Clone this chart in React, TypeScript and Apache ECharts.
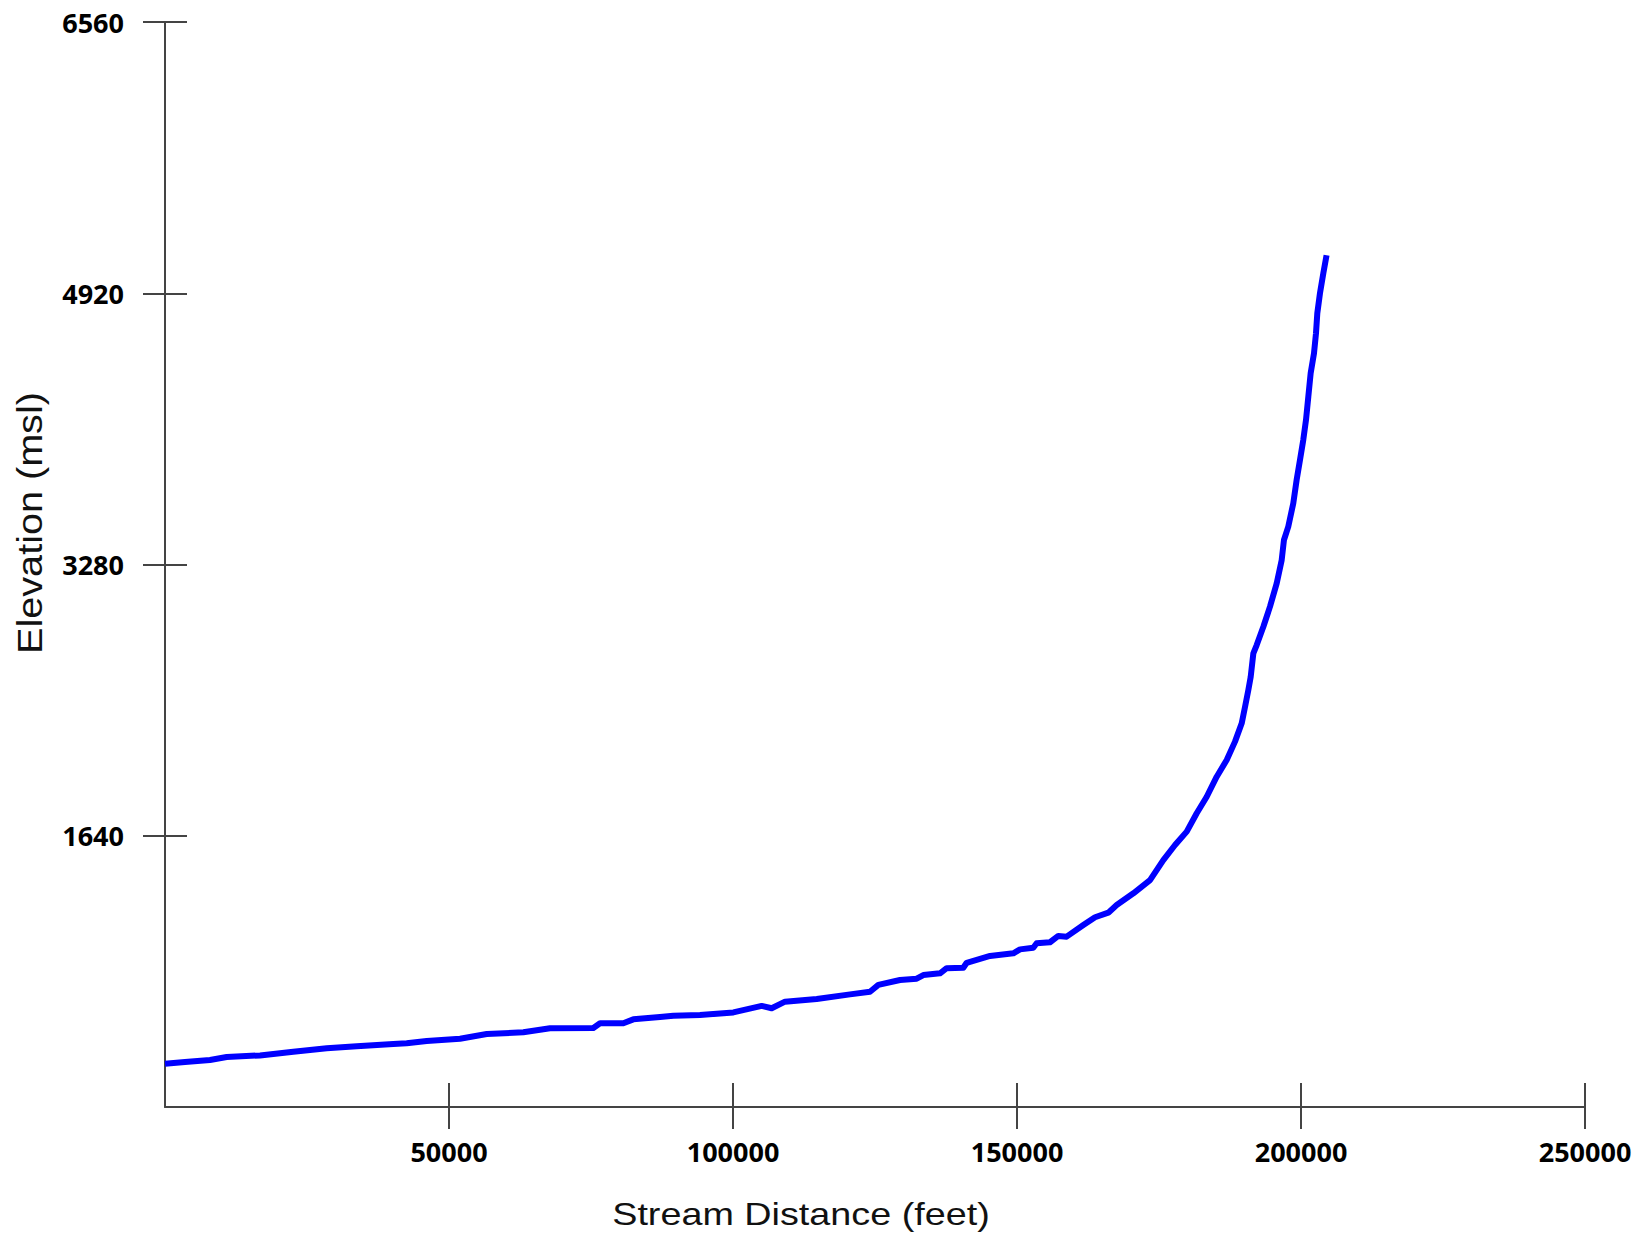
import React, { useEffect, useRef } from "react";
import * as echarts from "echarts";

const distanceFeet = [
  0, 3520, 7920, 10860, 16730, 19070, 22590, 25530, 28470, 33750, 40200, 42550,
  46070, 51940, 56640, 63090, 67780, 75410, 76590, 80690, 82450, 87150, 89500,
  94190, 100060, 105050, 106810, 109160, 114740, 120600, 124120, 125590, 129400,
  132340, 133510, 136450, 137620, 140550, 141140, 145250, 149360, 150530, 152870,
  153460, 155810, 157270, 158740, 161680, 163740, 166080, 167550, 170490, 173420,
  175760, 177820, 179880, 181640, 183400, 185160, 186920, 188380, 189560, 190150,
  190730, 191140, 191610, 192200, 193370, 194540, 195720, 196600, 197000, 197760,
  198640, 199230, 199820, 200400, 200880, 201290, 201700, 202290, 202640, 202870,
  203340, 203930, 204500,
];
const elevationMsl = [
  262, 272, 284, 302, 312, 320, 334, 345, 355, 367, 381, 385,
  399, 413, 441, 452, 476, 478, 506, 506, 530, 544, 552,
  556, 572, 611, 597, 637, 653, 681, 697, 738, 768,
  776, 798, 808, 839, 842, 872, 913, 929, 953, 963,
  990, 996, 1034, 1030, 1100, 1147, 1175, 1221, 1292, 1372,
  1493, 1584, 1665, 1776, 1876, 1997, 2098, 2209, 2320, 2420,
  2521, 2600, 2743, 2793, 2904, 3025, 3166, 3307, 3428, 3509,
  3650, 3791, 3912, 4033, 4154, 4295, 4436, 4557, 4678, 4799,
  4920, 5041, 5150,
];
const xTicks = [50000, 100000, 150000, 200000, 250000];
const yTicks = [1640, 3280, 4920, 6560];
const xTitle = "Stream Distance (feet)";
const yTitle = "Elevation (msl)";

export default function App() {
  const ref = useRef<HTMLDivElement>(null);
  useEffect(() => {
    if (!ref.current) return;
    const chart = echarts.init(ref.current, undefined, { renderer: "svg" });
    const axisColor = "#444";
    const labelStyle = {
      color: "#000",
      fontFamily: "Open Sans",
      fontWeight: "bold" as const,
      fontSize: 27,
      formatter: (v: number) => String(v),
    };
    const data = distanceFeet.map((d, i) => [d, elevationMsl[i]]);
    chart.setOption({
      animation: false,
      backgroundColor: "#fff",
      grid: { left: 165, right: 63, top: 22, bottom: 133 },
      xAxis: [
        {
          type: "value",
          min: 0,
          max: 250000,
          interval: 50000,
          position: "bottom",
          axisLine: { show: true, lineStyle: { color: axisColor, width: 2 } },
          axisTick: {
            show: true,
            inside: false,
            length: 22,
            customValues: xTicks,
            lineStyle: { color: axisColor, width: 2 },
          },
          axisLabel: {
            ...labelStyle,
            margin: 31,
            customValues: xTicks,
          },
          splitLine: { show: false },
        },
        {
          type: "value",
          min: 0,
          max: 250000,
          interval: 50000,
          position: "bottom",
          axisLine: { show: false },
          axisTick: {
            show: true,
            inside: true,
            length: 24,
            customValues: xTicks,
            lineStyle: { color: axisColor, width: 2 },
          },
          axisLabel: { show: false },
          splitLine: { show: false },
        },
      ],
      yAxis: [
        {
          type: "value",
          min: 0,
          max: 6560,
          interval: 1640,
          position: "left",
          axisLine: { show: true, lineStyle: { color: axisColor, width: 2 } },
          axisTick: {
            show: true,
            inside: false,
            length: 22,
            customValues: yTicks,
            lineStyle: { color: axisColor, width: 2 },
          },
          axisLabel: {
            ...labelStyle,
            margin: 41,
            customValues: yTicks,
          },
          splitLine: { show: false },
        },
        {
          type: "value",
          min: 0,
          max: 6560,
          interval: 1640,
          position: "left",
          axisLine: { show: false },
          axisTick: {
            show: true,
            inside: true,
            length: 22,
            customValues: yTicks,
            lineStyle: { color: axisColor, width: 2 },
          },
          axisLabel: { show: false },
          splitLine: { show: false },
        },
      ],
      graphic: [
        {
          type: "text",
          x: 801,
          y: 1214,
          scaleX: 1.18,
          style: {
            text: xTitle,
            fontFamily: "Liberation Sans",
            fontSize: 32,
            fill: "#111",
            align: "center",
            verticalAlign: "middle",
          },
        },
        {
          type: "text",
          x: 30,
          y: 523,
          rotation: Math.PI / 2,
          scaleX: 1.1,
          style: {
            text: yTitle,
            fontFamily: "Liberation Sans",
            fontSize: 36,
            fill: "#111",
            align: "center",
            verticalAlign: "middle",
          },
        },
      ],
      series: [
        {
          type: "line",
          xAxisIndex: 0,
          yAxisIndex: 0,
          data,
          showSymbol: false,
          symbol: "none",
          lineStyle: { color: "#0000ff", width: 6, join: "round" },
        },
      ],
    });
    return () => chart.dispose();
  }, []);
  return (
    <div
      ref={ref}
      style={{ position: "fixed", left: 0, top: 0, width: 1648, height: 1240 }}
    />
  );
}
